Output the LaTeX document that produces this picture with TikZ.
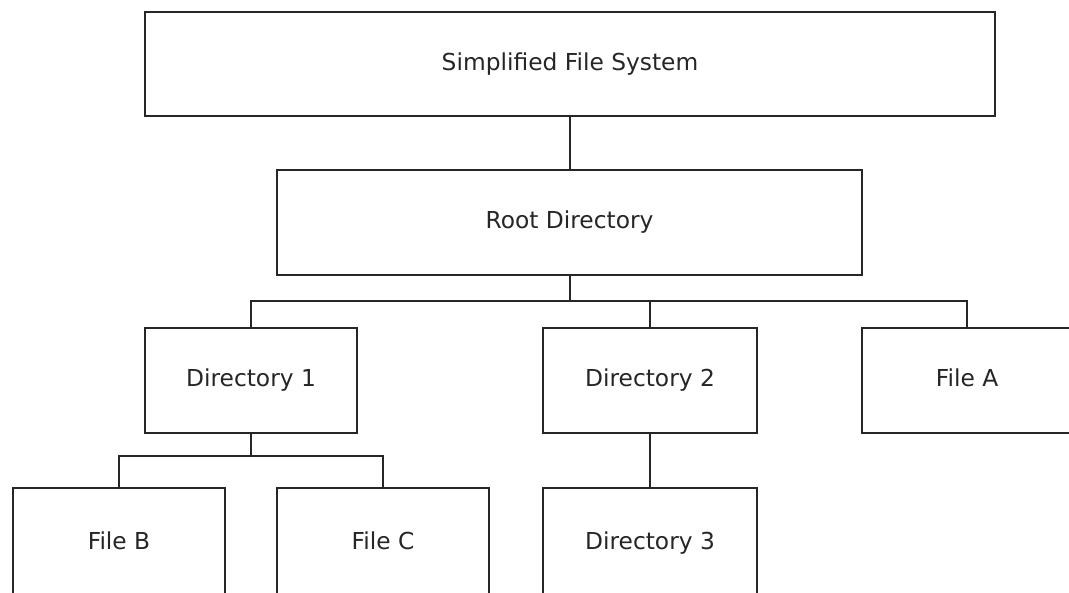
\documentclass[tikz,border=0pt]{standalone}
\usepackage{fontspec}
\setmainfont{DejaVu Sans}
\begin{document}
\begin{tikzpicture}[x=0.75pt,y=-0.75pt,
  box/.style={draw=black!85,line width=1.3pt,fill=white,inner sep=0pt,minimum height=105*0.75pt,
    font=\fontsize{17.5pt}{20pt}\selectfont,text=black!85,text height=13pt,text depth=3.5pt},
  conn/.style={draw=black!85,line width=1.3pt}]
\useasboundingbox (0,0) rectangle (1069,592);
\begin{scope}
\clip (0,0) rectangle (1069,592);
\node[box,minimum width=850*0.75pt,minimum height=104*0.75pt] (sfs) at (570,64) {Simplified File System};
\node[box,minimum width=585*0.75pt] (root) at (569.5,222.5) {Root Directory};
\node[box,minimum width=212*0.75pt] (d1) at (251,380.5) {Directory 1};
\node[box,minimum width=214*0.75pt] (d2) at (650,380.5) {Directory 2};
\node[box,minimum width=210*0.75pt] (fa) at (967,380.5) {File A};
\node[box,minimum width=212*0.75pt,minimum height=110*0.75pt] (fb) at (119,543) {File B};
\node[box,minimum width=212*0.75pt,minimum height=110*0.75pt] (fc) at (383,543) {File C};
\node[box,minimum width=214*0.75pt,minimum height=110*0.75pt] (d3) at (650,543) {Directory 3};
\coordinate (bus1) at (570,301);
\coordinate (bus2) at (251,456);
\draw[conn] (sfs.south -| bus1) -- (root.north -| bus1);
\draw[conn] (root.south -| bus1) -- (bus1);
\draw[conn] (d1.north) -- (d1.north |- bus1) -| (fa.north);
\draw[conn] (d2.north) -- (d2.north |- bus1);
\draw[conn] (d1.south) -- (bus2);
\draw[conn] (fb.north) -- (fb.north |- bus2) -| (fc.north);
\draw[conn] (d2.south) -- (d3.north);
\end{scope}
\end{tikzpicture}
\end{document}
